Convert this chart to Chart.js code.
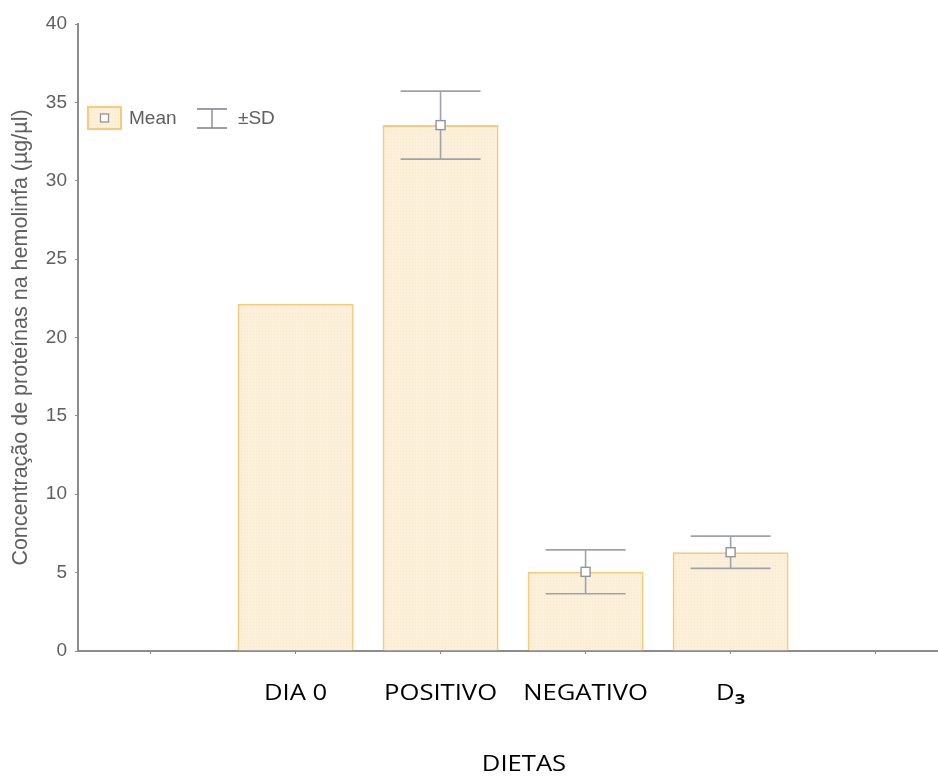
<!DOCTYPE html>
<html>
<head>
<meta charset="utf-8">
<title>Proteínas na hemolinfa</title>
<script src="https://cdn.jsdelivr.net/npm/chart.js@4/dist/chart.umd.min.js"></script>
<style>
  html, body { margin: 0; padding: 0; background: #ffffff; overflow: hidden; }
  #wrap { width: 938px; height: 778px; }
</style>
</head>
<body>
<div id="wrap"><canvas id="chart" width="938" height="778"></canvas></div>
<script>
// Category slots along the x axis (first and last are empty padding slots)
const categories = ['', 'DIA 0', 'POSITIVO', 'NEGATIVO', 'D\u2083', ''];
// Position of each diet on the x axis
const dietSlots = [1, 2, 3, 4];
// Mean protein concentration (µg/µl)
const means = [22.15, 33.55, 5.05, 6.3];
// Standard deviation (no spread shown for DIA 0)
const sds = [null, 2.17, 1.4, 1.03];
// Y axis range and step
const yMin = 0, yMax = 40, yStep = 5;
const xTitle = 'DIETAS';

const GRAY_TEXT = '#5f5f5f';
const AXIS = '#8c8c8c';
const BAR_FILL = '#fdf0da';
const BAR_EDGE = '#f6cb7a';
const ERR = '#9ea3aa';
const LABEL_FONT = '"Open Sans", "Noto Sans", sans-serif';
const LABEL_STRETCH = 1.22;

// Faint dotted texture for the bar fill
function makePattern() {
  const c = document.createElement('canvas');
  c.width = 3; c.height = 3;
  const g = c.getContext('2d');
  g.fillStyle = BAR_FILL;
  g.fillRect(0, 0, 3, 3);
  g.fillStyle = '#f6e6ca';
  g.fillRect(1, 1, 1, 1);
  return g.createPattern(c, 'repeat');
}
const barPattern = makePattern();

// Whiskers and mean markers drawn from the SD values
const errorBars = {
  id: 'errorBars',
  afterDatasetsDraw(chart) {
    const { ctx, scales: { x, y } } = chart;
    ctx.save();
    means.forEach((m, i) => {
      const sd = sds[i];
      if (sd == null) return;
      const px = x.getPixelForValue(dietSlots[i]);
      const pm = y.getPixelForValue(m);
      const ph = y.getPixelForValue(m + sd);
      const pl = y.getPixelForValue(m - sd);
      const half = 40;
      ctx.strokeStyle = ERR;
      ctx.lineWidth = 1.6;
      ctx.beginPath();
      ctx.moveTo(px, ph); ctx.lineTo(px, pl);
      ctx.moveTo(px - half, ph); ctx.lineTo(px + half, ph);
      ctx.moveTo(px - half, pl); ctx.lineTo(px + half, pl);
      ctx.stroke();
      const s = 9;
      ctx.fillStyle = '#ffffff';
      ctx.fillRect(px - s / 2, pm - s / 2, s, s);
      ctx.strokeStyle = '#8e949c';
      ctx.lineWidth = 1.4;
      ctx.strokeRect(px - s / 2, pm - s / 2, s, s);
    });
    ctx.restore();
  }
};

// Category labels and axis title, set in a slightly widened face
const SUBSCRIPTS = '\u2080\u2081\u2082\u2083\u2084\u2085\u2086\u2087\u2088\u2089';
function drawWideText(ctx, text, cx, cy) {
  ctx.save();
  ctx.translate(cx, cy);
  ctx.scale(LABEL_STRETCH, 1);
  ctx.fillStyle = '#000000';
  ctx.textBaseline = 'middle';
  const last = text.slice(-1);
  const sub = SUBSCRIPTS.indexOf(last);
  if (sub >= 0) {
    const base = text.slice(0, -1);
    ctx.font = '21px ' + LABEL_FONT;
    const wb = ctx.measureText(base).width;
    ctx.font = 'bold 15px ' + LABEL_FONT;
    const ws = ctx.measureText(String(sub)).width;
    const start = -(wb + ws) / 2;
    ctx.textAlign = 'left';
    ctx.font = '21px ' + LABEL_FONT;
    ctx.fillText(base, start, 0);
    ctx.font = 'bold 15px ' + LABEL_FONT;
    ctx.fillText(String(sub), start + wb, 6);
  } else {
    ctx.font = '21px ' + LABEL_FONT;
    ctx.textAlign = 'center';
    ctx.fillText(text, 0, 0);
  }
  ctx.restore();
}
const categoryLabels = {
  id: 'categoryLabels',
  afterDraw(chart) {
    const x = chart.scales.x;
    const ctx = chart.ctx;
    x.ticks.forEach((t, i) => {
      const label = categories[t.value];
      if (!label) return;
      drawWideText(ctx, label, x.getPixelForTick(i), x.top + 43);
    });
    const mid = (chart.chartArea.left + chart.chartArea.right) / 2 + 16;
    drawWideText(ctx, xTitle, mid, x.bottom - 13);
  }
};

// Legend: Mean box and ±SD whisker key
const keyLegend = {
  id: 'keyLegend',
  afterDraw(chart) {
    const ctx = chart.ctx;
    const x0 = chart.chartArea.left + 10;
    const yc = 118;
    ctx.save();
    ctx.fillStyle = barPattern;
    ctx.fillRect(x0, yc - 11, 33, 22);
    ctx.strokeStyle = BAR_EDGE;
    ctx.lineWidth = 2;
    ctx.strokeRect(x0, yc - 11, 33, 22);
    ctx.fillStyle = '#ffffff';
    ctx.fillRect(x0 + 12.5, yc - 4, 8, 8);
    ctx.strokeStyle = '#8e949c';
    ctx.lineWidth = 1.3;
    ctx.strokeRect(x0 + 12.5, yc - 4, 8, 8);

    ctx.font = '19px "Liberation Sans", Arial, sans-serif';
    ctx.fillStyle = GRAY_TEXT;
    ctx.textBaseline = 'middle';
    ctx.fillText('Mean', x0 + 41, yc + 1);

    const ex = x0 + 124;
    ctx.strokeStyle = '#7d8087';
    ctx.lineWidth = 1.3;
    ctx.beginPath();
    ctx.moveTo(ex - 15, yc - 9); ctx.lineTo(ex + 15, yc - 9);
    ctx.moveTo(ex, yc - 9); ctx.lineTo(ex, yc + 10);
    ctx.moveTo(ex - 15, yc + 10); ctx.lineTo(ex + 15, yc + 10);
    ctx.stroke();
    ctx.fillText('\u00B1SD', ex + 26, yc + 1);
    ctx.restore();
  }
};

new Chart(document.getElementById('chart'), {
  type: 'bar',
  data: {
    datasets: [{
      label: 'Mean',
      data: dietSlots.map((s, i) => ({ x: s, y: means[i] })),
      backgroundColor: barPattern,
      borderColor: BAR_EDGE,
      borderWidth: 2,
      barPercentage: 0.8,
      categoryPercentage: 1.0
    }]
  },
  options: {
    responsive: false,
    animation: false,
    layout: { padding: { top: 24, right: 0, bottom: 0, left: 0 } },
    plugins: {
      legend: { display: false },
      tooltip: { enabled: false }
    },
    scales: {
      x: {
        type: 'linear',
        min: -0.5,
        max: 5.43,
        offset: false,
        afterFit(scale) { scale.height = 127; },
        grid: { display: true, offset: false, drawOnChartArea: false, drawTicks: true, tickLength: 3, color: AXIS },
        border: { display: true, color: AXIS, width: 2 },
        ticks: {
          display: false,
          stepSize: 1,
          includeBounds: false,
          autoSkip: false
        },
        title: { display: false }
      },
      y: {
        min: yMin,
        max: yMax,
        afterFit(scale) { scale.width = 78; },
        grid: { display: true, drawOnChartArea: false, drawTicks: true, tickLength: 3, color: AXIS },
        border: { display: true, color: AXIS, width: 2 },
        ticks: {
          stepSize: yStep,
          padding: 8,
          color: GRAY_TEXT,
          font: { family: '"Liberation Sans", Arial, sans-serif', size: 19 }
        },
        title: {
          display: true,
          text: 'Concentração de proteínas na hemolinfa (µg/µl)',
          color: GRAY_TEXT,
          font: { family: '"Liberation Sans", Arial, sans-serif', size: 21.5 },
          padding: { top: 8, bottom: 0 }
        }
      }
    }
  },
  plugins: [errorBars, categoryLabels, keyLegend]
});
</script>
</body>
</html>
